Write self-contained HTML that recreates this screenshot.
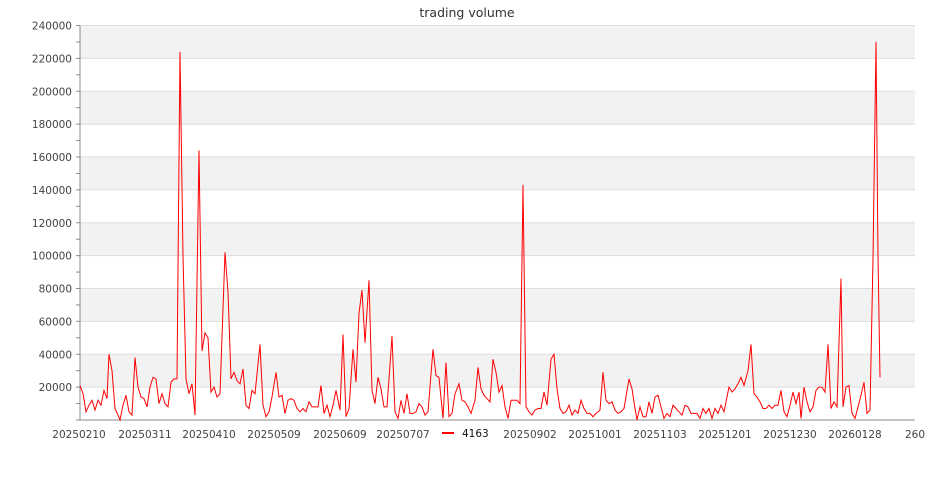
<!DOCTYPE html>
<html><head><meta charset="utf-8"><style>
html,body{margin:0;padding:0;background:#fff;}
svg{display:block;font-family:"DejaVu Sans","Liberation Sans",sans-serif;}
</style></head><body>
<svg id="c" width="935" height="500" viewBox="0 0 935 500" xmlns="http://www.w3.org/2000/svg">
<rect width="935" height="500" fill="#fff"/>
<text x="467" y="17" text-anchor="middle" font-size="12.5" fill="#333">trading volume</text>
<g id="bands"></g>
<g id="axis"></g>
<polyline id="line" fill="none" stroke="#ff0000" stroke-width="1" stroke-linejoin="miter" points=""/>
<g font-size="10.5" fill="#444" text-anchor="middle">
<text x="79" y="438">20250210</text>
<text x="145" y="438">20250311</text>
<text x="209" y="438">20250410</text>
<text x="274" y="438">20250509</text>
<text x="340" y="438">20250609</text>
<text x="403" y="438">20250707</text>
<text x="530" y="438">20250902</text>
<text x="595" y="438">20251001</text>
<text x="660" y="438">20251103</text>
<text x="725" y="438">20251201</text>
<text x="790" y="438">20251230</text>
<text x="855" y="438">20260128</text>
<text x="915" y="438">260</text>
</g>
<rect x="442" y="432" width="12" height="2" fill="#ff0000"/>
<text x="462" y="437" font-size="10.5" fill="#111">4163</text>
</svg>
<script>
var T=25.5,B=420,L=80,R=915;
function Y(v){return B-v*(B-T)/240000;}
var ns="http://www.w3.org/2000/svg";
var bands=document.getElementById('bands'),axis=document.getElementById('axis');
function el(p,t,a){var e=document.createElementNS(ns,t);for(var k in a)e.setAttribute(k,a[k]);p.appendChild(e);return e;}
for(var i=0;i<12;i++){var v0=i*20000,v1=v0+20000;
 if(i%2==1) el(bands,'rect',{x:L,y:Y(v1),width:R-L,height:Y(v0)-Y(v1),fill:'#f2f2f2'});}
for(var i=1;i<=12;i++){el(bands,'line',{x1:L,x2:R,y1:Y(i*20000),y2:Y(i*20000),stroke:'#dedede','stroke-width':1});}
el(axis,'line',{x1:L,x2:L,y1:T,y2:B,stroke:'#888'});
el(axis,'line',{x1:L,x2:R,y1:B,y2:B,stroke:'#888'});
for(var i=0;i<=24;i++){var y=Y(i*10000);el(axis,'line',{x1:L-4,x2:L,y1:y,y2:y,stroke:'#888'});
 if(i%2==0&&i>0){var t=el(axis,'text',{x:L-8,y:y+4,'font-size':10.5,fill:'#444','text-anchor':'end'});t.textContent=String(i*10000);}}
var d=[80,21,83,16,86,5,89,9,92,12,95,6,98,12,101,9,104,18,107,13,109,40,112,30,115,7,118,3,120,0,123,9,126,15,129,5,132,3,135,38,138,20,141,14,144,13,147,8,150,20,153,26,156,25,159,10,162,16,165,10,168,8,171,23,174,25,177,25,180,224,183,100,186,25,189,16,192,22,195,3,199,164,202,42,205,53,208,50,211,17,214,20,217,14,220,16,225,102,228,78,231,25,234,29,237,24,240,22,243,31,246,9,249,7,252,18,255,16,260,46,263,9,266,2,269,5,272,14,276,29,279,14,282,15,285,4,288,12,291,13,294,12,297,7,300,5,303,7,306,5,309,11,312,8,315,8,318,8,321,21,324,4,327,9,330,2,333,9,336,18,340,6,343,52,346,2,349,7,353,43,356,23,359,65,362,79,365,47,369,85,372,18,375,10,378,26,381,19,384,8,387,8,392,51,395,5,398,1,401,12,404,4,407,16,410,4,413,4,416,5,419,10,422,8,425,3,428,5,433,43,436,27,439,26,443,1,446,35,449,2,452,4,455,16,459,22,462,12,465,11,468,8,471,4,475,12,478,32,481,19,484,15,487,13,490,11,493,37,496,29,499,17,502,21,505,8,508,1,511,12,514,12,517,12,520,10,523,143,526,8,529,5,532,3,535,6,538,7,541,7,544,17,547,9,551,37,554,40,557,19,560,7,563,4,566,5,569,9,572,3,575,6,578,4,581,12,584,7,587,4,590,4,593,2,596,4,600,6,603,29,606,12,609,10,612,11,615,6,618,4,621,5,624,7,629,25,632,19,635,7,637,0,640,8,643,2,646,2,649,11,652,4,655,14,658,15,661,8,664,1,667,4,670,2,673,9,676,7,679,5,682,3,685,9,688,8,691,4,694,4,697,4,700,1,703,7,706,4,709,7,712,1,715,7,718,4,721,9,724,5,729,20,732,17,735,19,738,22,741,26,744,21,748,30,751,46,754,16,757,14,760,11,763,7,766,7,769,9,772,7,775,9,778,9,781,18,784,5,787,2,790,9,793,17,796,10,799,17,801,1,804,20,807,11,810,5,813,8,816,18,819,20,822,20,825,17,828,46,831,7,834,11,837,8,841,86,843,8,846,20,849,21,852,4,855,1,858,8,861,15,864,23,867,4,870,6,873,98,876,230,878,100,880,26];
var p=[];for(var i=0;i<d.length;i+=2)p.push(d[i]+','+Y(d[i+1]*1000).toFixed(1));
document.getElementById('line').setAttribute('points',p.join(' '));
</script>
</body></html>
